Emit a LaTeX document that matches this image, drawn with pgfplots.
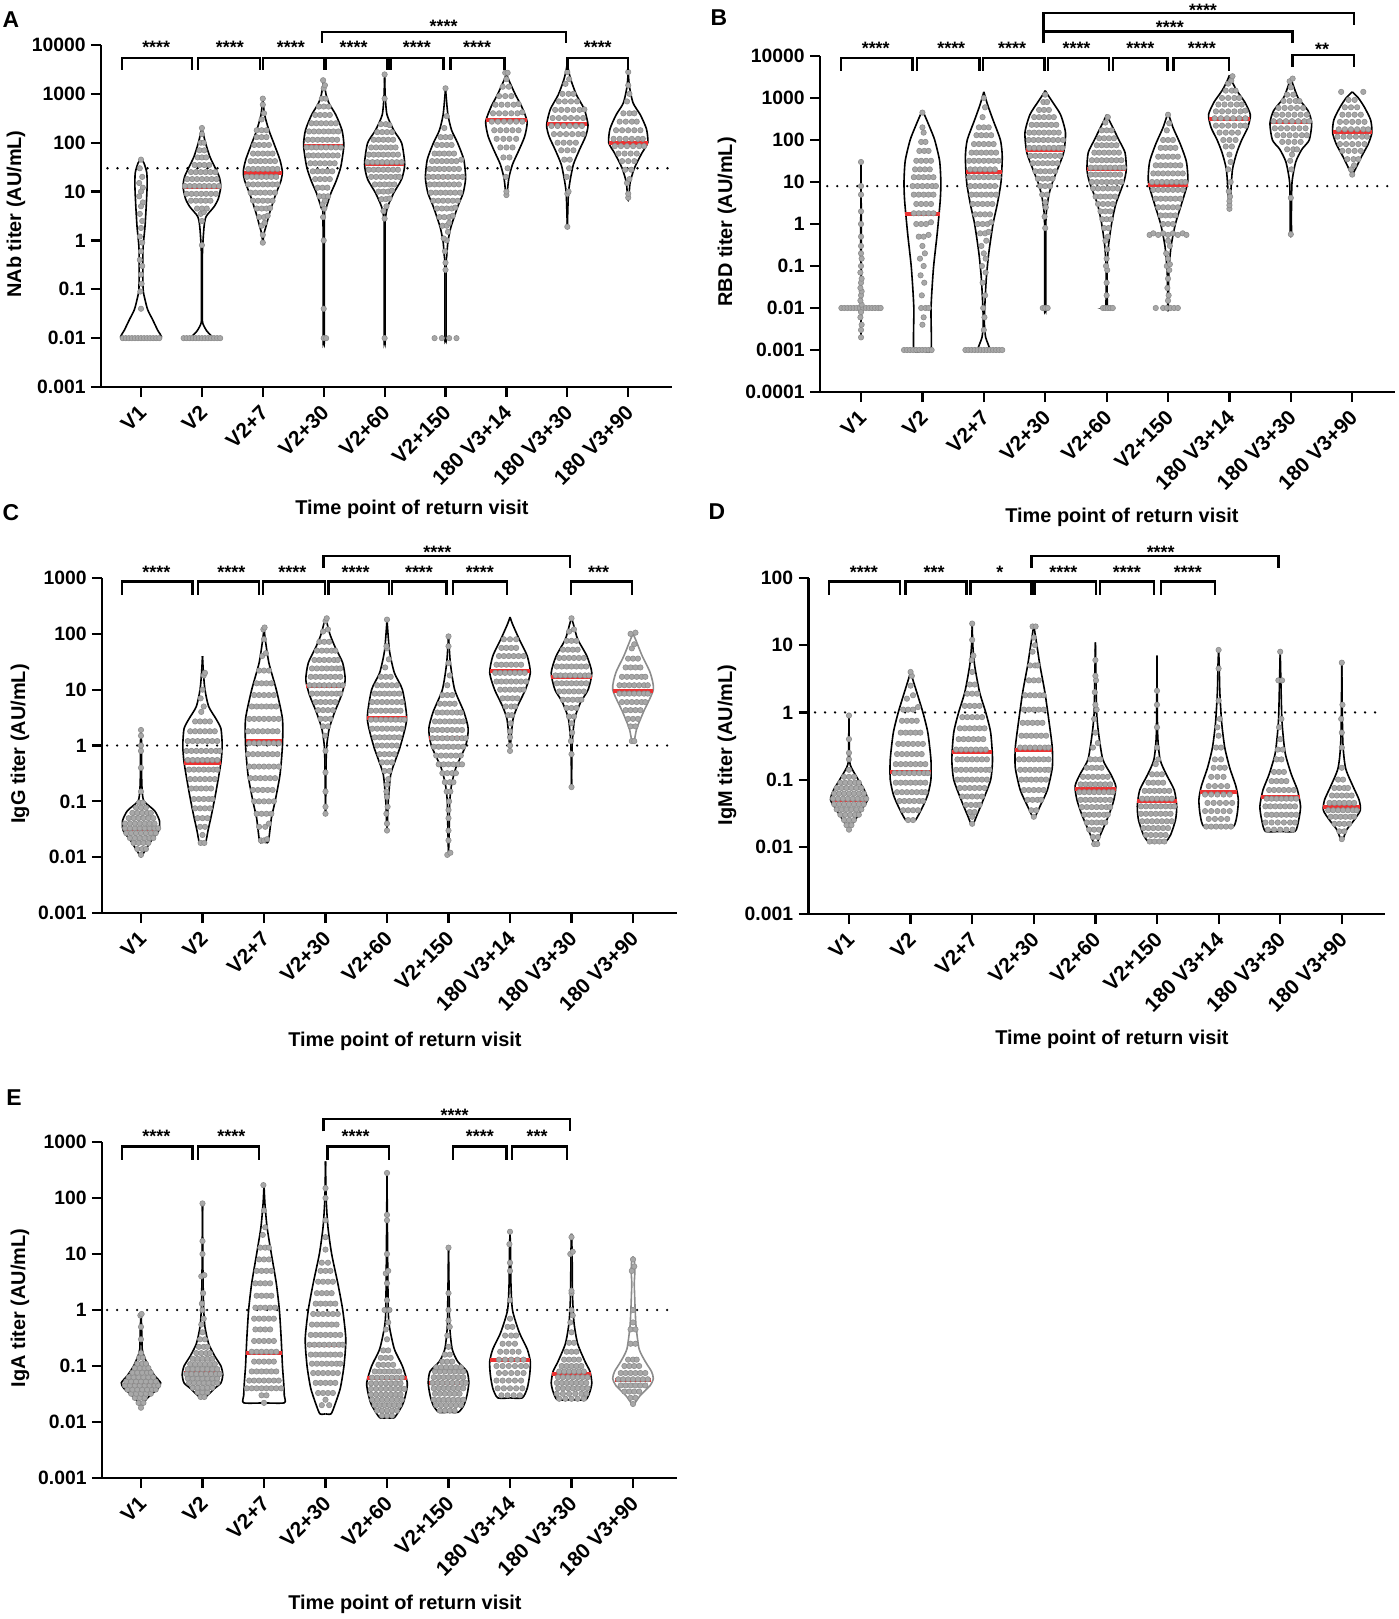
\documentclass[border=0pt]{standalone}
\usepackage{fontspec}
\setmainfont{Liberation Sans}
\usepackage{pgfplots}
\pgfplotsset{compat=1.18}
\definecolor{ptfill}{RGB}{168,168,168}
\definecolor{ptdraw}{RGB}{140,140,140}
\definecolor{medred}{RGB}{236,50,50}
\definecolor{vgray}{RGB}{140,140,140}
\newcommand{\vio}[3][black]{%
\addplot[draw=#1, line width=0.8bp, smooth, tension=0.4, mark=none, forget plot] table[row sep=\\, x expr=#2+\thisrow{w}, y=y]{y w\\ #3};
\addplot[draw=#1, line width=0.8bp, smooth, tension=0.4, mark=none, forget plot] table[row sep=\\, x expr=#2-\thisrow{w}, y=y]{y w\\ #3};}
\newcommand{\med}[3]{\addplot[color=medred, line width=2bp, mark=none, forget plot] table[row sep=\\, x expr=#1+\thisrow{d}, y=y]{d y\\ -#2 #3\\ #2 #3\\};}
\newcommand{\thr}[1]{\addplot[color=black, line width=1.3bp, line cap=round, dash pattern=on 0bp off 5bp, mark=none, forget plot] coordinates {(-0.55,#1) (8.7,#1)};}
\tikzset{br/.style={line width=1.2bp}, stars/.style={anchor=base, inner sep=0pt, font=\fontsize{9}{10}\selectfont\bfseries, yshift=-5.2bp},
  tl/.style={rotate=45, anchor=east, inner sep=0pt, font=\fontsize{10.5}{12}\selectfont\bfseries}}
\newcommand{\ticklabels}[1]{\foreach \c/\l in {0/V1,1/V2,2/V2+7,3/V2+30,4/V2+60,5/V2+150,6/180 V3+14,7/180 V3+30,8/180 V3+90}{\node[tl] at ({\c+0.028},#1) {\l};}}
\begin{document}
\begin{tikzpicture}
\path[use as bounding box] (0,0) rectangle (699.5bp,-809.5bp);

% ================= A =================
\begin{axis}[scale only axis, ymode=log, axis lines=left, axis line style={line width=1.1bp, -},
    tick style={line width=1.1bp, black}, major tick length=5bp, tick align=outside,
    xtick={0,1,2,3,4,5,6,7,8}, xticklabels={},
    y tick label style={font=\fontsize{9.7}{12}\selectfont\bfseries, inner sep=0bp, xshift=-2.5bp},
    yminorticks=false, enlargelimits=false, clip=false, anchor=south west,
  at={(50.5bp,-193.5bp)}, width=285.5bp, height=171bp,
  xmin=-0.657, xmax=8.719, ymin=0.001, ymax=10000,
  ytick={0.001,0.01,0.1,1,10,100,1000,10000}, yticklabels={0.001,0.01,0.1,1,10,100,1000,10000}]
\thr{30}
\vio{0}{0.01 0\\0.01 0.33\\0.0148 0.27\\0.024 0.19\\0.038 0.11\\0.062 0.065\\0.098 0.035\\0.3 0.03\\0.76 0.035\\1.9 0.065\\4.9 0.085\\12.6 0.10\\24 0.095\\38 0.05\\48 0\\}
\vio{1}{0.01 0\\0.01 0.18\\0.014 0.08\\0.02 0.015\\0.03 0.008\\0.5 0.008\\1.9 0.035\\3.1 0.07\\4.9 0.2\\7.2 0.27\\12.6 0.31\\20 0.285\\32 0.21\\52 0.13\\98 0.06\\200 0\\}
\vio{2}{0.88 0\\1.4 0.02\\1.9 0.05\\3.6 0.11\\8 0.2\\17 0.3\\26 0.32\\45 0.28\\98 0.18\\180 0.1\\370 0.03\\800 0\\}
\vio{3}{0.01 0\\0.01 0.01\\3 0.012\\4.6 0.04\\9.4 0.12\\16 0.2\\32 0.28\\87 0.33\\180 0.3\\370 0.2\\630 0.09\\950 0.04\\1900 0\\}
\vio{4}{0.01 0\\0.01 0.008\\2 0.008\\3 0.015\\4.9 0.05\\9.4 0.15\\18 0.28\\36 0.33\\98 0.28\\180 0.15\\370 0.04\\900 0.01\\2450 0\\}
\vio{5}{0.01 0\\0.01 0.01\\0.3 0.01\\0.48 0.02\\0.95 0.04\\1.9 0.09\\4.9 0.2\\9.4 0.29\\19 0.33\\45 0.3\\98 0.2\\180 0.1\\370 0.04\\900 0.01\\1300 0\\}
\vio{6}{8 0\\8 0.01\\10 0.015\\19 0.04\\36 0.1\\68 0.2\\135 0.3\\270 0.34\\550 0.25\\950 0.15\\1900 0.04\\2600 0\\}
\vio{7}{1.8 0\\5 0.01\\10 0.02\\18 0.05\\36 0.1\\72 0.2\\135 0.3\\230 0.34\\480 0.28\\950 0.15\\1900 0.06\\3000 0.02\\4300 0\\}
\vio{8}{7 0\\7 0.01\\15 0.03\\30 0.1\\60 0.22\\100 0.32\\190 0.3\\370 0.2\\650 0.08\\1400 0.02\\2800 0\\}
\addplot[only marks, mark=*, mark size=1.35bp, draw=ptdraw, fill=ptfill, line width=0.3bp, forget plot] coordinates {
(-0.30,0.01)(-0.25,0.01)(-0.20,0.01)(-0.15,0.01)(-0.10,0.01)(-0.05,0.01)(0,0.01)(0.05,0.01)(0.10,0.01)(0.15,0.01)(0.20,0.01)(0.25,0.01)(0.30,0.01)
(0,45)(-0.02,30)(0.02,20)(-0.03,15)(0.03,12)(0,10)(-0.03,8)(0.03,6)(0,5)(-0.02,3.5)(0.02,2.5)(0,1.8)(-0.02,1.2)(0.02,0.9)(0,0.6)(-0.02,0.4)(0.02,0.3)(0,0.2)(0.01,0.13)(-0.01,0.09)(0,0.04)
(0.70,0.01)(0.75,0.01)(0.80,0.01)(0.85,0.01)(0.90,0.01)(0.95,0.01)(1.0,0.01)(1.05,0.01)(1.10,0.01)(1.15,0.01)(1.20,0.01)(1.25,0.01)(1.30,0.01)
(1,0.8)(1,2.5)(0.98,3.5)(1.03,3.8)(0.92,4.5)(1.0,4.5)(1.08,4.5)
(0.82,6.5)(0.9,6.5)(0.98,6.5)(1.06,6.5)(1.14,6.5)
(0.75,9)(0.83,9)(0.91,9)(0.99,9)(1.07,9)(1.15,9)(1.23,9)
(0.72,13)(0.8,13)(0.88,13)(0.96,13)(1.04,13)(1.12,13)(1.2,13)(1.28,13)
(0.76,18)(0.84,18)(0.92,18)(1.0,18)(1.08,18)(1.16,18)(1.24,18)
(0.82,25)(0.9,25)(0.98,25)(1.06,25)(1.14,25)(1.22,25)
(0.88,35)(0.96,35)(1.04,35)(1.12,35)(0.93,50)(1.0,50)(1.07,50)(0.96,70)(1.04,70)(0.98,100)(1.03,100)(1.0,150)(1.0,200)
(2,0.9)(2,1.3)(1.98,2)(2.03,2.3)(1.94,3)(2.02,3)(2.08,3.2)
(1.9,4.5)(1.98,4.5)(2.06,4.5)(2.12,4.6)
(1.84,6.5)(1.92,6.5)(2.0,6.5)(2.08,6.5)(2.16,6.5)
(1.8,9.5)(1.88,9.5)(1.96,9.5)(2.04,9.5)(2.12,9.5)(2.2,9.5)
(1.76,14)(1.84,14)(1.92,14)(2.0,14)(2.08,14)(2.16,14)(2.24,14)
(1.74,20)(1.82,20)(1.9,20)(1.98,20)(2.06,20)(2.14,20)(2.22,20)
(1.76,29)(1.84,29)(1.92,29)(2.0,29)(2.08,29)(2.16,29)(2.24,29)
(1.8,42)(1.88,42)(1.96,42)(2.04,42)(2.12,42)(2.2,42)
(1.84,60)(1.92,60)(2.0,60)(2.08,60)(2.16,60)
(1.86,90)(1.94,90)(2.02,90)(2.1,90)(1.9,130)(1.98,130)(2.06,130)(1.9,180)(1.98,180)(2.06,180)
(1.98,300)(2.02,400)(2,600)(2,800)
(3,0.01)(3.04,0.01)(3,0.04)(3,1)(2.99,3)(3.01,4.5)(2.98,5.5)(3.02,6.5)
(2.93,8)(3,8)(3.07,8)(2.9,12)(2.98,12)(3.06,12)
(2.86,18)(2.94,18)(3.02,18)(3.1,18)
(2.82,26)(2.9,26)(2.98,26)(3.06,26)(3.14,26)
(2.78,38)(2.86,38)(2.94,38)(3.02,38)(3.1,38)(3.18,38)
(2.75,55)(2.83,55)(2.91,55)(2.99,55)(3.07,55)(3.15,55)(3.23,55)
(2.72,80)(2.8,80)(2.88,80)(2.96,80)(3.04,80)(3.12,80)(3.2,80)(3.28,80)
(2.74,115)(2.82,115)(2.9,115)(2.98,115)(3.06,115)(3.14,115)(3.22,115)
(2.76,170)(2.84,170)(2.92,170)(3.0,170)(3.08,170)(3.16,170)(3.24,170)
(2.8,250)(2.88,250)(2.96,250)(3.04,250)(3.12,250)(3.2,250)
(2.86,370)(2.94,370)(3.02,370)(3.1,370)(2.92,550)(3.0,550)(3.08,550)(2.97,800)(3.03,800)
(3,1300)(3.02,1500)(2.99,1900)
(4,0.01)(4,2.8)(3.98,4)(4.03,5)(3.95,7)(4.02,7)(4.08,7.2)
(3.9,10)(3.98,10)(4.06,10)(4.12,10.5)
(3.84,14)(3.92,14)(4.0,14)(4.08,14)(4.16,14)
(3.78,20)(3.86,20)(3.94,20)(4.02,20)(4.1,20)(4.18,20)(4.24,20)
(3.74,28)(3.82,28)(3.9,28)(3.98,28)(4.06,28)(4.14,28)(4.22,28)
(3.72,40)(3.8,40)(3.88,40)(3.96,40)(4.04,40)(4.12,40)(4.2,40)(4.28,40)
(3.74,57)(3.82,57)(3.9,57)(3.98,57)(4.06,57)(4.14,57)(4.22,57)
(3.78,80)(3.86,80)(3.94,80)(4.02,80)(4.1,80)(4.18,80)
(3.82,115)(3.9,115)(3.98,115)(4.06,115)(4.14,115)
(3.88,165)(3.96,165)(4.04,165)(4.12,165)(3.94,240)(4.02,240)(4.08,230)(4,800)(4,2500)
(4.82,0.01)(4.94,0.01)(5.06,0.01)(5.18,0.01)
(5,0.25)(5,0.35)(4.99,0.6)(5.02,1)(4.97,1.1)(5.04,1.5)(4.95,2)(5.02,2)(5.06,2.3)
(4.9,3)(4.98,3)(5.06,3)(5.12,3.2)
(4.86,4.5)(4.94,4.5)(5.02,4.5)(5.1,4.5)(5.16,4.7)
(4.8,6.5)(4.88,6.5)(4.96,6.5)(5.04,6.5)(5.12,6.5)(5.2,6.5)
(4.76,9.5)(4.84,9.5)(4.92,9.5)(5.0,9.5)(5.08,9.5)(5.16,9.5)(5.24,9.5)
(4.74,14)(4.82,14)(4.9,14)(4.98,14)(5.06,14)(5.14,14)(5.22,14)
(4.72,20)(4.8,20)(4.88,20)(4.96,20)(5.04,20)(5.12,20)(5.2,20)(5.28,20)
(4.74,29)(4.82,29)(4.9,29)(4.98,29)(5.06,29)(5.14,29)(5.22,29)
(4.78,42)(4.86,42)(4.94,42)(5.02,42)(5.1,42)(5.18,42)(5.26,45)
(4.82,60)(4.9,60)(4.98,60)(5.06,60)(5.14,60)
(4.86,90)(4.94,90)(5.02,90)(5.1,90)(4.92,130)(5.0,130)(5.08,130)(4.98,200)(5.02,350)(5,1300)
(6,8.5)(6,10)(5.99,20)(6.02,30)(5.95,50)(6.05,50)(5.9,80)(6.0,80)(6.1,80)
(5.84,120)(5.95,120)(6.05,120)(6.16,120)
(5.8,180)(5.9,180)(6.0,180)(6.1,180)(6.2,180)
(5.76,270)(5.86,270)(5.96,270)(6.06,270)(6.16,270)(6.26,270)
(5.78,400)(5.88,400)(5.98,400)(6.08,400)(6.18,400)(6.26,420)
(5.82,600)(5.92,600)(6.02,600)(6.12,600)(6.2,620)
(5.88,900)(5.98,900)(6.08,900)(5.94,1400)(6.04,1400)(6,2000)(5.98,2700)(6.02,2700)
(7,1.9)(7,9)(7.02,10)(6.99,20)(7.03,30)(6.95,45)(7.04,45)(6.9,70)(7.0,70)(7.1,70)
(6.84,100)(6.94,100)(7.04,100)(7.14,100)
(6.78,150)(6.88,150)(6.98,150)(7.08,150)(7.18,150)(7.26,150)
(6.74,220)(6.84,220)(6.94,220)(7.04,220)(7.14,220)(7.24,220)
(6.76,320)(6.86,320)(6.96,320)(7.06,320)(7.16,320)(7.26,320)
(6.8,470)(6.9,470)(7.0,470)(7.1,470)(7.2,470)(7.28,480)
(6.86,700)(6.96,700)(7.06,700)(7.16,700)(6.92,1000)(7.02,1000)(7.1,1000)
(6.97,1600)(7.03,2000)(7,2800)
(8,7.5)(8,9)(7.98,15)(8.02,18)(7.95,28)(8.05,28)(7.9,42)(8.0,42)(8.1,42)
(7.84,60)(7.94,60)(8.04,60)(8.14,60)
(7.78,85)(7.88,85)(7.98,85)(8.08,85)(8.18,85)(8.26,85)
(7.76,120)(7.86,120)(7.96,120)(8.06,120)(8.16,120)(8.24,120)
(7.8,180)(7.9,180)(8.0,180)(8.1,180)(8.2,180)
(7.86,270)(7.96,270)(8.06,270)(8.14,270)(7.92,400)(8.02,400)(8.1,400)
(7.98,700)(8.02,1000)(8,1500)(8,2800)
};
\med{1}{0.31}{12.6}\med{2}{0.31}{24}\med{3}{0.32}{87}\med{4}{0.32}{37}\med{5}{0.32}{19.5}
\med{6}{0.33}{285}\med{7}{0.33}{240}\med{8}{0.32}{100}
\end{axis}

% ================= B =================
\begin{axis}[scale only axis, ymode=log, axis lines=left, axis line style={line width=1.1bp, -},
    tick style={line width=1.1bp, black}, major tick length=5bp, tick align=outside,
    xtick={0,1,2,3,4,5,6,7,8}, xticklabels={},
    y tick label style={font=\fontsize{9.7}{12}\selectfont\bfseries, inner sep=0bp, xshift=-2.5bp},
    yminorticks=false, enlargelimits=false, clip=false, anchor=south west,
  at={(410bp,-196bp)}, width=287.5bp, height=168bp,
  xmin=-0.668, xmax=8.697, ymin=0.0001, ymax=10000,
  ytick={0.0001,0.001,0.01,0.1,1,10,100,1000,10000}, yticklabels={0.0001,0.001,0.01,0.1,1,10,100,1000,10000}]
\thr{8}
\vio{0}{0.002 0\\0.007 0.005\\0.009 0.03\\0.01 0.06\\0.011 0.03\\0.014 0.005\\1 0.004\\30 0\\}
\vio{1}{0.001 0\\0.001 0.14\\0.01 0.14\\0.09 0.18\\0.58 0.24\\3.6 0.29\\10 0.3\\32 0.28\\100 0.2\\200 0.12\\350 0.05\\500 0\\}
\vio{2}{0.001 0\\0.001 0.1\\0.002 0.03\\0.004 0.01\\0.01 0.015\\0.05 0.04\\0.2 0.08\\1 0.15\\3 0.22\\10 0.28\\40 0.3\\100 0.27\\300 0.15\\700 0.06\\1400 0\\}
\vio{3}{0.01 0\\0.01 0.01\\0.8 0.01\\2 0.02\\5 0.06\\10 0.12\\20 0.2\\50 0.3\\150 0.33\\400 0.25\\800 0.12\\1200 0.04\\1500 0\\}
\vio{4}{0.01 0\\0.01 0.02\\0.012 0.01\\0.1 0.01\\0.3 0.03\\1 0.08\\3 0.15\\10 0.28\\20 0.32\\50 0.3\\100 0.2\\200 0.1\\300 0.04\\400 0\\}
\vio{5}{0.01 0\\0.01 0.005\\0.05 0.01\\0.1 0.02\\0.3 0.05\\1 0.12\\3 0.22\\10 0.32\\30 0.3\\80 0.2\\200 0.08\\450 0\\}
\vio{6}{2.3 0\\2.3 0.01\\5 0.02\\20 0.05\\50 0.12\\100 0.2\\200 0.3\\400 0.34\\800 0.25\\1500 0.12\\2500 0.04\\3500 0\\}
\vio{7}{0.57 0\\0.57 0.01\\2 0.01\\10 0.02\\30 0.08\\60 0.18\\100 0.3\\250 0.34\\500 0.28\\1000 0.12\\2000 0.04\\3000 0\\}
\vio{8}{14.5 0\\20 0.05\\40 0.15\\80 0.26\\150 0.32\\300 0.3\\600 0.2\\1000 0.1\\1400 0\\}
\addplot[only marks, mark=*, mark size=1.35bp, draw=ptdraw, fill=ptfill, line width=0.3bp, forget plot] coordinates {
(-0.32,0.01)(-0.27,0.01)(-0.22,0.01)(-0.17,0.01)(-0.12,0.01)(-0.07,0.01)(-0.02,0.01)(0.03,0.01)(0.08,0.01)(0.13,0.01)(0.18,0.01)(0.23,0.01)(0.28,0.01)(0.32,0.01)
(0,0.002)(0,0.003)(0.01,0.004)(-0.01,0.006)(0,0.008)(0.01,0.012)(-0.01,0.015)(0,0.02)(0.01,0.025)(-0.01,0.03)(0,0.04)(0.01,0.05)(-0.01,0.07)(0,0.1)(0.01,0.15)(0,0.2)(0,0.3)(0,0.5)(0,1)(0,2)(0,5)(0,8)(0,30)
(0.70,0.001)(0.75,0.001)(0.80,0.001)(0.85,0.001)(0.90,0.001)(0.95,0.001)(1.0,0.001)(1.05,0.001)(1.10,0.001)(1.15,0.001)
(1.0,0.004)(1.02,0.006)(0.98,0.01)(1.05,0.01)(1.1,0.01)(0.99,0.02)(1.03,0.04)(0.97,0.06)(1.02,0.1)(0.96,0.15)(1.04,0.2)(1.0,0.3)
(0.94,0.5)(1.02,0.5)(1.1,0.55)(0.9,1)(0.98,1)(1.06,1)(1.14,1.1)
(0.86,1.8)(0.94,1.8)(1.02,1.8)(1.1,1.8)(1.18,1.8)
(0.9,3)(0.98,3)(1.06,3)(1.14,3)
(0.86,5)(0.94,5)(1.02,5)(1.1,5)(1.18,5)
(0.84,8)(0.92,8)(1.0,8)(1.08,8)(1.16,8)(1.22,8)
(0.86,13)(0.94,13)(1.02,13)(1.1,13)(1.18,13)
(0.88,20)(0.96,20)(1.04,20)(1.12,20)
(0.9,32)(0.98,32)(1.06,32)(1.14,32)(0.95,55)(1.03,55)(1.1,55)(0.98,90)(1.05,90)(1.02,150)(1.0,200)(1.0,450)
(1.70,0.001)(1.75,0.001)(1.80,0.001)(1.85,0.001)(1.90,0.001)(1.95,0.001)(2.0,0.001)(2.05,0.001)(2.10,0.001)(2.15,0.001)(2.20,0.001)(2.25,0.001)(2.30,0.001)
(2,0.003)(2.01,0.006)(1.99,0.01)(2.02,0.02)(1.98,0.04)(2.03,0.07)(1.97,0.1)(2.03,0.15)(2,0.2)(1.96,0.3)(2.04,0.4)
(1.94,0.6)(2.02,0.6)(2.08,0.65)(1.9,1)(1.98,1)(2.06,1)(2.12,1.1)
(1.86,1.7)(1.94,1.7)(2.02,1.7)(2.1,1.7)
(1.82,3)(1.9,3)(1.98,3)(2.06,3)(2.14,3)
(1.8,5)(1.88,5)(1.96,5)(2.04,5)(2.12,5)(2.2,5)
(1.78,8)(1.86,8)(1.94,8)(2.02,8)(2.1,8)(2.18,8)
(1.76,13)(1.84,13)(1.92,13)(2.0,13)(2.08,13)(2.16,13)(2.24,13)
(1.78,20)(1.86,20)(1.94,20)(2.02,20)(2.1,20)(2.18,20)
(1.76,32)(1.84,32)(1.92,32)(2.0,32)(2.08,32)(2.16,32)(2.24,32)
(1.8,50)(1.88,50)(1.96,50)(2.04,50)(2.12,50)(2.2,50)
(1.84,80)(1.92,80)(2.0,80)(2.08,80)(2.16,80)
(1.88,130)(1.96,130)(2.04,130)(2.12,130)(1.92,200)(2.0,200)(2.08,200)(1.98,350)(2.02,600)(2,1000)
(2.96,0.01)(3,0.01)(3.04,0.01)(3,0.8)(2.99,1.5)(3.01,2.5)(3,3.3)(2.95,5)(3.03,5)
(2.92,8)(3.0,8)(3.08,8)(2.88,12)(2.96,12)(3.04,12)(3.12,12)
(2.84,18)(2.92,18)(3.0,18)(3.08,18)(3.16,18)
(2.8,28)(2.88,28)(2.96,28)(3.04,28)(3.12,28)(3.2,28)
(2.76,42)(2.84,42)(2.92,42)(3.0,42)(3.08,42)(3.16,42)(3.24,42)
(2.74,65)(2.82,65)(2.9,65)(2.98,65)(3.06,65)(3.14,65)(3.22,65)(3.28,65)
(2.73,100)(2.81,100)(2.89,100)(2.97,100)(3.05,100)(3.13,100)(3.21,100)(3.29,100)
(2.74,150)(2.82,150)(2.9,150)(2.98,150)(3.06,150)(3.14,150)(3.22,150)
(2.78,230)(2.86,230)(2.94,230)(3.02,230)(3.1,230)(3.18,230)
(2.82,350)(2.9,350)(2.98,350)(3.06,350)(3.14,350)
(2.9,520)(2.98,520)(3.06,520)(2.97,800)(3.03,800)(3,1200)
(3.94,0.01)(3.98,0.01)(4.02,0.01)(4.06,0.01)(4.1,0.01)
(4,0.02)(4,0.04)(4.01,0.08)(3.99,0.1)(4,0.15)(4.01,0.25)(3.98,0.4)(4.02,0.5)
(3.96,0.8)(4.03,0.8)(3.93,1.3)(4.0,1.3)(4.07,1.3)(3.9,2)(3.98,2)(4.06,2)
(3.86,3)(3.94,3)(4.02,3)(4.1,3)
(3.82,4.5)(3.9,4.5)(3.98,4.5)(4.06,4.5)(4.14,4.5)
(3.78,7)(3.86,7)(3.94,7)(4.02,7)(4.1,7)(4.18,7)
(3.76,10)(3.84,10)(3.92,10)(4.0,10)(4.08,10)(4.16,10)(4.24,10)
(3.74,15)(3.82,15)(3.9,15)(3.98,15)(4.06,15)(4.14,15)(4.22,15)
(3.74,22)(3.82,22)(3.9,22)(3.98,22)(4.06,22)(4.14,22)(4.22,22)(4.28,22)
(3.76,33)(3.84,33)(3.92,33)(4.0,33)(4.08,33)(4.16,33)(4.24,33)
(3.8,50)(3.88,50)(3.96,50)(4.04,50)(4.12,50)(4.2,50)
(3.84,75)(3.92,75)(4.0,75)(4.08,75)(4.16,75)
(3.88,110)(3.96,110)(4.04,110)(4.12,110)(3.92,170)(4.0,170)(4.08,170)(3.98,260)(4.02,350)
(4.8,0.01)(4.92,0.01)(4.98,0.01)(5.04,0.01)(5.1,0.01)(5.16,0.01)
(5,0.015)(5.01,0.02)(4.99,0.03)(5.0,0.05)(5.02,0.08)(4.98,0.1)(5.03,0.11)(5,0.15)(4.97,0.2)(5.03,0.3)(5,0.4)
(4.7,0.55)(4.76,0.6)(4.84,0.55)(4.92,0.6)(5.0,0.55)(5.08,0.6)(5.16,0.55)(5.24,0.6)(5.3,0.55)
(4.92,1)(5.0,1)(5.08,1)(4.88,1.6)(4.96,1.6)(5.04,1.6)(5.12,1.6)
(4.84,2.5)(4.92,2.5)(5.0,2.5)(5.08,2.5)(5.16,2.5)
(4.8,4)(4.88,4)(4.96,4)(5.04,4)(5.12,4)(5.2,4)
(4.76,6.5)(4.84,6.5)(4.92,6.5)(5.0,6.5)(5.08,6.5)(5.16,6.5)(5.24,6.5)
(4.74,10)(4.82,10)(4.9,10)(4.98,10)(5.06,10)(5.14,10)(5.22,10)(5.28,10)
(4.76,16)(4.84,16)(4.92,16)(5.0,16)(5.08,16)(5.16,16)(5.24,16)
(4.8,25)(4.88,25)(4.96,25)(5.04,25)(5.12,25)(5.2,25)
(4.84,40)(4.92,40)(5.0,40)(5.08,40)(5.16,40)
(4.88,65)(4.96,65)(5.04,65)(5.12,65)(4.92,100)(5.0,100)(5.08,100)(4.98,170)(5.02,250)(5,400)
(6,2.3)(6,2.8)(6,3.5)(6.01,4.5)(5.99,6)(6.02,10)(5.98,20)(6.02,30)(6,45)(5.94,70)(6.04,70)
(5.9,100)(6.0,100)(6.1,100)(5.84,150)(5.94,150)(6.04,150)(6.14,150)
(5.78,220)(5.88,220)(5.98,220)(6.08,220)(6.18,220)(6.26,220)
(5.76,330)(5.86,330)(5.96,330)(6.06,330)(6.16,330)(6.26,330)
(5.78,480)(5.88,480)(5.98,480)(6.08,480)(6.18,480)(6.26,500)
(5.82,700)(5.92,700)(6.02,700)(6.12,700)(6.2,700)
(5.88,1000)(5.98,1000)(6.08,1000)(6.16,1000)(5.94,1500)(6.04,1500)(6.1,1500)
(5.98,2200)(6.03,2600)(6.05,3300)
(7,0.57)(7,4.2)(7.01,20)(6.99,32)(7.02,45)(6.94,60)(7.04,60)(7.1,60)
(6.86,90)(6.96,90)(7.06,90)(7.16,90)
(6.78,130)(6.88,130)(6.98,130)(7.08,130)(7.18,130)(7.26,130)
(6.74,190)(6.84,190)(6.94,190)(7.04,190)(7.14,190)(7.24,190)
(6.72,280)(6.82,280)(6.92,280)(7.02,280)(7.12,280)(7.22,280)(7.3,280)
(6.76,400)(6.86,400)(6.96,400)(7.06,400)(7.16,400)(7.26,400)
(6.8,580)(6.9,580)(7.0,580)(7.1,580)(7.2,580)
(6.88,850)(6.98,850)(7.08,850)(7.14,850)(6.94,1200)(7.04,1200)(7,1800)(6.98,2500)(7.03,2900)
(8,15)(7.98,20)(8.03,25)(7.92,35)(8.02,35)(8.1,35)
(7.84,55)(7.94,55)(8.04,55)(8.14,55)
(7.8,80)(7.9,80)(8.0,80)(8.1,80)(8.2,80)
(7.76,120)(7.86,120)(7.96,120)(8.06,120)(8.16,120)(8.24,120)
(7.78,180)(7.88,180)(7.98,180)(8.08,180)(8.18,180)(8.26,180)
(7.8,270)(7.9,270)(8.0,270)(8.1,270)(8.2,270)
(7.84,400)(7.94,400)(8.04,400)(8.14,400)(7.88,600)(7.98,600)(8.08,600)(7.94,900)(8.04,900)(7.82,1400)(8.18,1400)
};
\med{1}{0.29}{1.7}\med{2}{0.29}{17}\med{3}{0.31}{58}\med{4}{0.32}{20}\med{5}{0.32}{8.7}
\med{6}{0.33}{320}\med{7}{0.33}{270}\med{8}{0.32}{152}
\end{axis}

% ================= C =================
\begin{axis}[scale only axis, ymode=log, axis lines=left, axis line style={line width=1.1bp, -},
    tick style={line width=1.1bp, black}, major tick length=5bp, tick align=outside,
    xtick={0,1,2,3,4,5,6,7,8}, xticklabels={},
    y tick label style={font=\fontsize{9.7}{12}\selectfont\bfseries, inner sep=0bp, xshift=-2.5bp},
    yminorticks=false, enlargelimits=false, clip=false, anchor=south west,
  at={(51bp,-456.5bp)}, width=287.5bp, height=167.5bp,
  xmin=-0.634, xmax=8.715, ymin=0.001, ymax=1000,
  ytick={0.001,0.01,0.1,1,10,100,1000}, yticklabels={0.001,0.01,0.1,1,10,100,1000}]
\thr{1}
\vio{0}{0.01 0\\0.015 0.1\\0.02 0.17\\0.03 0.29\\0.045 0.3\\0.068 0.22\\0.1 0.05\\0.15 0.02\\0.3 0.01\\1 0.01\\1.9 0\\}
\vio{1}{0.018 0\\0.018 0.05\\0.03 0.09\\0.06 0.15\\0.15 0.22\\0.5 0.3\\1 0.32\\2 0.3\\3 0.22\\5 0.1\\10 0.04\\20 0.015\\40 0\\}
\vio{2}{0.019 0\\0.019 0.07\\0.05 0.12\\0.1 0.18\\0.3 0.26\\1 0.3\\3 0.3\\10 0.2\\30 0.08\\80 0.02\\130 0\\}
\vio{3}{0.06 0\\0.5 0.01\\1 0.02\\2 0.06\\4 0.15\\8 0.26\\15 0.32\\30 0.28\\60 0.15\\100 0.07\\200 0\\}
\vio{4}{0.03 0\\0.05 0.01\\0.1 0.02\\0.3 0.06\\0.6 0.15\\1 0.22\\3 0.32\\10 0.25\\20 0.12\\50 0.04\\180 0\\}
\vio{5}{0.011 0\\0.03 0.01\\0.1 0.02\\0.2 0.05\\0.4 0.12\\1 0.28\\2 0.32\\4 0.25\\10 0.1\\30 0.03\\95 0\\}
\vio{6}{0.8 0\\1.5 0.02\\3 0.05\\5 0.12\\10 0.25\\20 0.33\\40 0.28\\80 0.15\\150 0.04\\200 0\\}
\vio{7}{0.18 0\\1 0.01\\3 0.05\\6 0.15\\10 0.27\\20 0.33\\40 0.25\\80 0.1\\150 0.03\\190 0\\}
\vio[vgray]{8}{1.2 0\\1.2 0.02\\2 0.06\\4 0.17\\10 0.33\\20 0.28\\40 0.15\\80 0.04\\100 0\\}
\med{0}{0.28}{0.032}
\addplot[only marks, mark=*, mark size=1.35bp, draw=ptdraw, fill=ptfill, line width=0.3bp, forget plot] coordinates {
(0,0.011)(-0.06,0.014)(0.02,0.014)(0.08,0.014)
(-0.12,0.018)(-0.04,0.018)(0.04,0.018)(0.12,0.018)
(-0.18,0.022)(-0.1,0.022)(-0.02,0.022)(0.06,0.022)(0.14,0.022)(0.2,0.022)
(-0.24,0.027)(-0.16,0.027)(-0.08,0.027)(0,0.027)(0.08,0.027)(0.16,0.027)(0.24,0.027)
(-0.26,0.033)(-0.18,0.033)(-0.1,0.033)(-0.02,0.033)(0.06,0.033)(0.14,0.033)(0.22,0.033)(0.28,0.033)
(-0.26,0.04)(-0.18,0.04)(-0.1,0.04)(-0.02,0.04)(0.06,0.04)(0.14,0.04)(0.22,0.04)
(-0.2,0.05)(-0.12,0.05)(-0.04,0.05)(0.04,0.05)(0.12,0.05)(0.2,0.05)
(-0.14,0.062)(-0.06,0.062)(0.02,0.062)(0.1,0.062)(0.16,0.062)
(-0.08,0.077)(0,0.077)(0.08,0.077)(-0.03,0.095)(0.03,0.095)
(0,0.15)(0,0.4)(0,0.8)(0,1)(0,1.5)(0,1.9)
(0.97,0.018)(1.03,0.018)(1.0,0.025)(0.96,0.035)(1.04,0.035)(0.92,0.05)(1.0,0.05)(1.08,0.05)
(0.88,0.075)(0.96,0.075)(1.04,0.075)(1.12,0.075)
(0.86,0.11)(0.94,0.11)(1.02,0.11)(1.1,0.11)(1.16,0.11)
(0.82,0.17)(0.9,0.17)(0.98,0.17)(1.06,0.17)(1.14,0.17)
(0.8,0.25)(0.88,0.25)(0.96,0.25)(1.04,0.25)(1.12,0.25)(1.2,0.25)
(0.78,0.37)(0.86,0.37)(0.94,0.37)(1.02,0.37)(1.1,0.37)(1.18,0.37)(1.24,0.37)
(0.76,0.55)(0.84,0.55)(0.92,0.55)(1.0,0.55)(1.08,0.55)(1.16,0.55)(1.24,0.55)
(0.74,0.8)(0.82,0.8)(0.9,0.8)(0.98,0.8)(1.06,0.8)(1.14,0.8)(1.22,0.8)(1.28,0.8)
(0.76,1.2)(0.84,1.2)(0.92,1.2)(1.0,1.2)(1.08,1.2)(1.16,1.2)(1.24,1.2)
(0.8,1.8)(0.88,1.8)(0.96,1.8)(1.04,1.8)(1.12,1.8)(1.2,1.8)
(0.88,2.7)(0.96,2.7)(1.04,2.7)(1.12,2.7)(0.98,4)(1.02,5)(0.97,7)(1.0,10)(1.02,18)(1.04,20)
(1.95,0.02)(2.0,0.02)(2.05,0.021)(1.92,0.035)(2.02,0.035)(2.08,0.04)
(1.88,0.06)(1.96,0.06)(2.04,0.06)(2.12,0.06)
(1.84,0.1)(1.92,0.1)(2.0,0.1)(2.08,0.1)(2.16,0.1)
(1.82,0.16)(1.9,0.16)(1.98,0.16)(2.06,0.16)(2.14,0.16)
(1.78,0.26)(1.86,0.26)(1.94,0.26)(2.02,0.26)(2.1,0.26)(2.18,0.26)
(1.76,0.42)(1.84,0.42)(1.92,0.42)(2.0,0.42)(2.08,0.42)(2.16,0.42)(2.24,0.42)
(1.74,0.7)(1.82,0.7)(1.9,0.7)(1.98,0.7)(2.06,0.7)(2.14,0.7)(2.22,0.7)
(1.76,1.1)(1.84,1.1)(1.92,1.1)(2.0,1.1)(2.08,1.1)(2.16,1.1)(2.24,1.1)
(1.74,1.8)(1.82,1.8)(1.9,1.8)(1.98,1.8)(2.06,1.8)(2.14,1.8)(2.22,1.8)
(1.76,3)(1.84,3)(1.92,3)(2.0,3)(2.08,3)(2.16,3)(2.24,3)
(1.8,5)(1.88,5)(1.96,5)(2.04,5)(2.12,5)(2.2,5)
(1.84,8)(1.92,8)(2.0,8)(2.08,8)(2.16,8)
(1.88,13)(1.96,13)(2.04,13)(2.12,13)(1.92,22)(2.0,22)(2.08,22)(1.97,40)(2.03,45)(2,80)(1.99,120)(2.01,130)
(3,0.06)(3,0.08)(3,0.15)(3,0.33)(3,0.8)(2.99,1.5)(2.96,2.2)(3.04,2.2)(2.92,3)(3.0,3)(3.08,3)
(2.88,4.3)(2.96,4.3)(3.04,4.3)(3.12,4.3)
(2.84,6)(2.92,6)(3.0,6)(3.08,6)(3.16,6)
(2.78,8.5)(2.86,8.5)(2.94,8.5)(3.02,8.5)(3.1,8.5)(3.18,8.5)(3.24,8.5)
(2.74,12)(2.82,12)(2.9,12)(2.98,12)(3.06,12)(3.14,12)(3.22,12)(3.28,12)
(2.76,17)(2.84,17)(2.92,17)(3.0,17)(3.08,17)(3.16,17)(3.24,17)
(2.78,24)(2.86,24)(2.94,24)(3.02,24)(3.1,24)(3.18,24)(3.24,24)
(2.82,34)(2.9,34)(2.98,34)(3.06,34)(3.14,34)(3.2,34)
(2.86,50)(2.94,50)(3.02,50)(3.1,50)(3.16,50)
(2.9,72)(2.98,72)(3.06,72)(2.96,110)(3.04,120)(3.0,170)(3.02,190)
(4,0.03)(4,0.04)(3.99,0.06)(4.01,0.08)(4,0.12)(3.99,0.15)(4.0,0.2)(4.02,0.25)(3.96,0.35)(4.04,0.35)
(3.92,0.5)(4.0,0.5)(4.08,0.5)(3.88,0.7)(3.96,0.7)(4.04,0.7)(4.12,0.7)
(3.84,1)(3.92,1)(4.0,1)(4.08,1)(4.16,1)
(3.8,1.4)(3.88,1.4)(3.96,1.4)(4.04,1.4)(4.12,1.4)(4.2,1.4)
(3.76,2)(3.84,2)(3.92,2)(4.0,2)(4.08,2)(4.16,2)(4.24,2)
(3.74,2.9)(3.82,2.9)(3.9,2.9)(3.98,2.9)(4.06,2.9)(4.14,2.9)(4.22,2.9)(4.28,2.9)
(3.74,4.2)(3.82,4.2)(3.9,4.2)(3.98,4.2)(4.06,4.2)(4.14,4.2)(4.22,4.2)
(3.76,6)(3.84,6)(3.92,6)(4.0,6)(4.08,6)(4.16,6)(4.24,6)
(3.8,8.5)(3.88,8.5)(3.96,8.5)(4.04,8.5)(4.12,8.5)(4.2,8.5)
(3.84,12)(3.92,12)(4.0,12)(4.08,12)(4.16,12)
(3.9,17)(3.98,17)(4.06,17)(3.97,25)(4.03,35)(4,55)(3.99,60)(4,180)
(4.98,0.011)(5.03,0.012)(5,0.02)(5,0.03)(5,0.05)(5,0.07)(5.01,0.1)(4.97,0.15)(5.03,0.15)
(4.94,0.22)(5.02,0.22)(5.08,0.22)(4.9,0.32)(4.98,0.32)(5.06,0.32)(5.12,0.32)
(4.84,0.46)(4.92,0.46)(5.0,0.46)(5.08,0.46)(5.16,0.46)(5.22,0.46)
(4.8,0.66)(4.88,0.66)(4.96,0.66)(5.04,0.66)(5.12,0.66)(5.2,0.66)
(4.76,0.95)(4.84,0.95)(4.92,0.95)(5.0,0.95)(5.08,0.95)(5.16,0.95)(5.24,0.95)
(4.74,1.35)(4.82,1.35)(4.9,1.35)(4.98,1.35)(5.06,1.35)(5.14,1.35)(5.22,1.35)(5.28,1.35)
(4.74,1.9)(4.82,1.9)(4.9,1.9)(4.98,1.9)(5.06,1.9)(5.14,1.9)(5.22,1.9)
(4.78,2.7)(4.86,2.7)(4.94,2.7)(5.02,2.7)(5.1,2.7)(5.18,2.7)(5.24,2.7)
(4.82,3.9)(4.9,3.9)(4.98,3.9)(5.06,3.9)(5.14,3.9)(5.2,3.9)
(4.86,5.6)(4.94,5.6)(5.02,5.6)(5.1,5.6)(4.9,8)(4.98,8)(5.06,8)(4.98,12)(5.02,18)(5,30)(5,60)(5,90)
(6,0.8)(6,1)(6,1.4)(6,1.8)(6.01,2.5)(5.97,3.5)(6.03,3.5)(5.93,5)(6.02,5)(6.08,5)
(5.88,7)(5.96,7)(6.04,7)(6.12,7)
(5.84,10)(5.92,10)(6.0,10)(6.08,10)(6.16,10)(6.22,10)
(5.78,14)(5.86,14)(5.94,14)(6.02,14)(6.1,14)(6.18,14)(6.26,14)
(5.76,20)(5.84,20)(5.92,20)(6.0,20)(6.08,20)(6.16,20)(6.24,20)
(5.78,28)(5.86,28)(5.94,28)(6.02,28)(6.1,28)(6.18,28)
(5.82,40)(5.9,40)(5.98,40)(6.06,40)(6.14,40)(6.22,40)
(5.86,56)(5.94,56)(6.02,56)(6.1,56)(5.9,80)(6.0,80)(6.1,80)
(7,0.18)(7,0.7)(6.99,1.2)(7.01,1.7)(7,2.5)(6.96,3.3)(7.04,3.3)(6.92,4.7)(7.0,4.7)(7.08,4.7)
(6.86,6.6)(6.94,6.6)(7.02,6.6)(7.1,6.6)(7.16,6.6)
(6.8,9.3)(6.88,9.3)(6.96,9.3)(7.04,9.3)(7.12,9.3)(7.2,9.3)
(6.76,13)(6.84,13)(6.92,13)(7.0,13)(7.08,13)(7.16,13)(7.24,13)
(6.74,18)(6.82,18)(6.9,18)(6.98,18)(7.06,18)(7.14,18)(7.22,18)(7.28,18)
(6.76,26)(6.84,26)(6.92,26)(7.0,26)(7.08,26)(7.16,26)(7.24,26)
(6.8,37)(6.88,37)(6.96,37)(7.04,37)(7.12,37)(7.2,37)
(6.86,52)(6.94,52)(7.02,52)(7.1,52)(6.92,75)(7.0,75)(7.08,75)(6.96,110)(7.04,120)(7,190)
(7.98,1.2)(8.02,1.2)(7.96,2.2)(8.04,2.2)(7.92,3)(8.0,3)(8.08,3)
(7.88,4.3)(7.96,4.3)(8.04,4.3)(8.12,4.3)
(7.82,6)(7.9,6)(7.98,6)(8.06,6)(8.14,6)(8.2,6)
(7.78,8.5)(7.86,8.5)(7.94,8.5)(8.02,8.5)(8.1,8.5)(8.18,8.5)(8.24,8.5)
(7.78,12)(7.86,12)(7.94,12)(8.02,12)(8.1,12)(8.18,12)(8.24,12)
(7.82,17)(7.9,17)(7.98,17)(8.06,17)(8.14,17)(8.2,17)
(7.88,25)(7.96,25)(8.04,25)(8.12,25)(7.92,36)(8.0,36)(8.08,36)(7.98,55)(8.02,65)(7.96,100)(8.04,105)
};
\med{1}{0.3}{0.49}\med{2}{0.3}{1.2}\med{3}{0.32}{11.5}\med{4}{0.32}{3.1}\med{5}{0.31}{1.35}
\med{6}{0.33}{22}\med{7}{0.33}{17}\med{8}{0.32}{9.5}
\end{axis}

% ================= D =================
\begin{axis}[scale only axis, ymode=log, axis lines=left, axis line style={line width=1.1bp, -},
    tick style={line width=1.1bp, black}, major tick length=5bp, tick align=outside,
    xtick={0,1,2,3,4,5,6,7,8}, xticklabels={},
    y tick label style={font=\fontsize{9.7}{12}\selectfont\bfseries, inner sep=0bp, xshift=-2.5bp},
    yminorticks=false, enlargelimits=false, clip=false, anchor=south west,
  at={(404.25bp,-457bp)}, width=288.25bp, height=168bp,
  xmin=-0.657, xmax=8.701, ymin=0.001, ymax=100,
  ytick={0.001,0.01,0.1,1,10,100}, yticklabels={0.001,0.01,0.1,1,10,100}]
\thr{1}
\vio{0}{0.018 0\\0.025 0.1\\0.035 0.2\\0.05 0.3\\0.07 0.25\\0.1 0.15\\0.15 0.04\\0.2 0.01\\0.9 0\\}
\vio{1}{0.025 0\\0.025 0.08\\0.04 0.2\\0.06 0.28\\0.1 0.33\\0.2 0.33\\0.5 0.28\\1 0.2\\2 0.1\\3 0.04\\4 0\\}
\vio{2}{0.022 0\\0.022 0.02\\0.03 0.08\\0.05 0.18\\0.1 0.3\\0.2 0.33\\0.5 0.3\\1 0.22\\2 0.12\\5 0.04\\10 0.01\\21 0\\}
\vio{3}{0.028 0\\0.028 0.02\\0.04 0.1\\0.07 0.22\\0.15 0.3\\0.3 0.3\\0.7 0.25\\2 0.18\\5 0.1\\10 0.05\\15 0.02\\20 0\\}
\vio{4}{0.011 0\\0.011 0.02\\0.015 0.08\\0.03 0.22\\0.05 0.3\\0.08 0.33\\0.12 0.25\\0.2 0.12\\0.5 0.05\\1 0.02\\3 0.01\\11 0\\}
\vio{5}{0.012 0\\0.012 0.14\\0.015 0.22\\0.025 0.3\\0.04 0.32\\0.07 0.28\\0.12 0.15\\0.2 0.05\\0.5 0.01\\7 0\\}
\vio{6}{0.02 0\\0.02 0.24\\0.03 0.3\\0.05 0.32\\0.08 0.28\\0.15 0.18\\0.3 0.1\\0.7 0.05\\2 0.02\\5 0.01\\9 0\\}
\vio{7}{0.017 0\\0.017 0.24\\0.025 0.3\\0.04 0.33\\0.07 0.28\\0.12 0.18\\0.25 0.08\\0.7 0.03\\2 0.015\\8.5 0\\}
\vio{8}{0.013 0\\0.013 0.02\\0.018 0.08\\0.025 0.2\\0.035 0.3\\0.05 0.28\\0.08 0.18\\0.15 0.06\\0.4 0.015\\5.7 0\\}
\med{0}{0.28}{0.05}
\addplot[only marks, mark=*, mark size=1.35bp, draw=ptdraw, fill=ptfill, line width=0.3bp, forget plot] coordinates {
(0,0.018)(-0.04,0.021)(0.04,0.021)(-0.08,0.025)(0,0.025)(0.08,0.025)
(-0.14,0.03)(-0.06,0.03)(0.02,0.03)(0.1,0.03)(0.16,0.03)
(-0.2,0.036)(-0.12,0.036)(-0.04,0.036)(0.04,0.036)(0.12,0.036)(0.2,0.036)
(-0.24,0.043)(-0.16,0.043)(-0.08,0.043)(0,0.043)(0.08,0.043)(0.16,0.043)(0.24,0.043)
(-0.26,0.052)(-0.18,0.052)(-0.1,0.052)(-0.02,0.052)(0.06,0.052)(0.14,0.052)(0.22,0.052)(0.28,0.052)
(-0.24,0.062)(-0.16,0.062)(-0.08,0.062)(0,0.062)(0.08,0.062)(0.16,0.062)(0.24,0.062)
(-0.2,0.075)(-0.12,0.075)(-0.04,0.075)(0.04,0.075)(0.12,0.075)(0.2,0.075)
(-0.14,0.09)(-0.06,0.09)(0.02,0.09)(0.1,0.09)(0.16,0.09)
(-0.08,0.11)(0,0.11)(0.08,0.11)(0,0.14)(0,0.2)(0,0.25)(0,0.4)(0,0.9)
(0.96,0.025)(1.04,0.025)(0.88,0.035)(0.96,0.035)(1.04,0.035)(1.12,0.035)
(0.82,0.048)(0.9,0.048)(0.98,0.048)(1.06,0.048)(1.14,0.048)(1.2,0.048)
(0.78,0.065)(0.86,0.065)(0.94,0.065)(1.02,0.065)(1.1,0.065)(1.18,0.065)(1.24,0.065)
(0.76,0.09)(0.84,0.09)(0.92,0.09)(1.0,0.09)(1.08,0.09)(1.16,0.09)(1.24,0.09)
(0.74,0.125)(0.82,0.125)(0.9,0.125)(0.98,0.125)(1.06,0.125)(1.14,0.125)(1.22,0.125)(1.28,0.125)
(0.76,0.17)(0.84,0.17)(0.92,0.17)(1.0,0.17)(1.08,0.17)(1.16,0.17)(1.24,0.17)
(0.78,0.24)(0.86,0.24)(0.94,0.24)(1.02,0.24)(1.1,0.24)(1.18,0.24)
(0.8,0.34)(0.88,0.34)(0.96,0.34)(1.04,0.34)(1.12,0.34)(1.2,0.34)
(0.84,0.5)(0.92,0.5)(1.0,0.5)(1.08,0.5)(1.16,0.5)
(0.86,0.75)(0.94,0.75)(1.02,0.75)(1.1,0.75)(0.88,1.1)(0.96,1.1)(1.04,1.1)(1.12,1.2)
(0.94,1.6)(1.04,1.8)(1.0,2.5)(1.02,3.5)(1.0,4)
(2,0.022)(2,0.028)(1.96,0.033)(2.04,0.033)(1.9,0.042)(1.98,0.042)(2.06,0.042)(2.12,0.042)
(1.84,0.056)(1.92,0.056)(2.0,0.056)(2.08,0.056)(2.16,0.056)
(1.8,0.075)(1.88,0.075)(1.96,0.075)(2.04,0.075)(2.12,0.075)(2.2,0.075)
(1.76,0.1)(1.84,0.1)(1.92,0.1)(2.0,0.1)(2.08,0.1)(2.16,0.1)(2.24,0.1)
(1.74,0.14)(1.82,0.14)(1.9,0.14)(1.98,0.14)(2.06,0.14)(2.14,0.14)(2.22,0.14)(2.28,0.14)
(1.76,0.2)(1.84,0.2)(1.92,0.2)(2.0,0.2)(2.08,0.2)(2.16,0.2)(2.24,0.2)
(1.74,0.28)(1.82,0.28)(1.9,0.28)(1.98,0.28)(2.06,0.28)(2.14,0.28)(2.22,0.28)
(1.78,0.4)(1.86,0.4)(1.94,0.4)(2.02,0.4)(2.1,0.4)(2.18,0.4)
(1.8,0.58)(1.88,0.58)(1.96,0.58)(2.04,0.58)(2.12,0.58)(2.2,0.58)
(1.84,0.85)(1.92,0.85)(2.0,0.85)(2.08,0.85)(2.16,0.85)
(1.88,1.25)(1.96,1.25)(2.04,1.25)(2.12,1.25)(1.92,1.9)(2.0,1.9)(2.08,1.9)
(1.96,2.6)(2.04,2.6)(2,4)(1.99,6)(2.02,7)(2,12)(2,21)
(3,0.028)(2.96,0.035)(3.04,0.035)(2.9,0.05)(2.98,0.05)(3.06,0.05)(3.12,0.05)
(2.84,0.07)(2.92,0.07)(3.0,0.07)(3.08,0.07)(3.16,0.07)
(2.8,0.1)(2.88,0.1)(2.96,0.1)(3.04,0.1)(3.12,0.1)(3.2,0.1)
(2.78,0.14)(2.86,0.14)(2.94,0.14)(3.02,0.14)(3.1,0.14)(3.18,0.14)(3.24,0.14)
(2.76,0.2)(2.84,0.2)(2.92,0.2)(3.0,0.2)(3.08,0.2)(3.16,0.2)(3.24,0.2)
(2.78,0.3)(2.86,0.3)(2.94,0.3)(3.02,0.3)(3.1,0.3)(3.18,0.3)(3.24,0.3)
(2.8,0.45)(2.88,0.45)(2.96,0.45)(3.04,0.45)(3.12,0.45)(3.2,0.45)
(2.82,0.7)(2.9,0.7)(2.98,0.7)(3.06,0.7)(3.14,0.7)
(2.84,1.1)(2.92,1.1)(3.0,1.1)(3.08,1.1)(3.16,1.1)
(2.86,1.8)(2.94,1.8)(3.02,1.8)(3.1,1.8)(3.16,1.8)
(2.92,3)(3.0,3)(3.08,3)(2.94,5)(3.02,5)(3.06,5)(2.98,8)(3.02,10)(3.0,13)(2.98,19)(3.03,19)
(3.98,0.011)(4.03,0.011)(3.96,0.014)(4.04,0.014)(3.9,0.018)(3.98,0.018)(4.06,0.018)
(3.86,0.023)(3.94,0.023)(4.02,0.023)(4.1,0.023)(4.16,0.023)
(3.82,0.03)(3.9,0.03)(3.98,0.03)(4.06,0.03)(4.14,0.03)(4.2,0.03)
(3.78,0.039)(3.86,0.039)(3.94,0.039)(4.02,0.039)(4.1,0.039)(4.18,0.039)(4.24,0.039)
(3.76,0.05)(3.84,0.05)(3.92,0.05)(4.0,0.05)(4.08,0.05)(4.16,0.05)(4.24,0.05)
(3.74,0.065)(3.82,0.065)(3.9,0.065)(3.98,0.065)(4.06,0.065)(4.14,0.065)(4.22,0.065)(4.28,0.065)
(3.76,0.085)(3.84,0.085)(3.92,0.085)(4.0,0.085)(4.08,0.085)(4.16,0.085)(4.24,0.085)
(3.8,0.11)(3.88,0.11)(3.96,0.11)(4.04,0.11)(4.12,0.11)(4.2,0.11)
(3.86,0.15)(3.94,0.15)(4.02,0.15)(4.1,0.15)(3.92,0.2)(4.0,0.2)(4.08,0.2)
(3.96,0.3)(4.04,0.35)(4,0.5)(3.98,0.8)(4.02,1.1)(4,1.3)(3.99,2)(4.01,3)(4,3.5)(4,6)
(4.88,0.012)(4.96,0.012)(5.04,0.012)(5.12,0.012)
(4.82,0.015)(4.9,0.015)(4.98,0.015)(5.06,0.015)(5.14,0.015)
(4.78,0.019)(4.86,0.019)(4.94,0.019)(5.02,0.019)(5.1,0.019)(5.18,0.019)
(4.76,0.024)(4.84,0.024)(4.92,0.024)(5.0,0.024)(5.08,0.024)(5.16,0.024)(5.24,0.024)
(4.74,0.031)(4.82,0.031)(4.9,0.031)(4.98,0.031)(5.06,0.031)(5.14,0.031)(5.22,0.031)
(4.74,0.04)(4.82,0.04)(4.9,0.04)(4.98,0.04)(5.06,0.04)(5.14,0.04)(5.22,0.04)(5.28,0.04)
(4.76,0.052)(4.84,0.052)(4.92,0.052)(5.0,0.052)(5.08,0.052)(5.16,0.052)(5.24,0.052)
(4.8,0.068)(4.88,0.068)(4.96,0.068)(5.04,0.068)(5.12,0.068)(5.2,0.068)
(4.86,0.09)(4.94,0.09)(5.02,0.09)(5.1,0.09)(4.92,0.12)(5.0,0.12)(5.08,0.12)
(4.98,0.17)(5.02,0.2)(5,0.3)(5,0.6)(5,1.3)(5,2.1)
(5.8,0.02)(5.88,0.02)(5.96,0.02)(6.04,0.02)(6.12,0.02)(6.2,0.02)
(5.84,0.026)(5.94,0.026)(6.04,0.026)(6.14,0.026)
(5.78,0.034)(5.88,0.034)(5.98,0.034)(6.08,0.034)(6.18,0.034)
(5.82,0.045)(5.92,0.045)(6.02,0.045)(6.12,0.045)(6.22,0.045)
(5.78,0.06)(5.88,0.06)(5.98,0.06)(6.08,0.06)(6.18,0.06)
(5.84,0.08)(5.94,0.08)(6.04,0.08)(6.14,0.08)(5.88,0.11)(5.98,0.11)(6.08,0.11)
(5.92,0.15)(6.02,0.15)(6.1,0.15)(5.94,0.2)(6.04,0.2)(5.96,0.3)(6.04,0.3)
(6,0.45)(5.98,0.6)(6.02,0.8)(6,1.5)(6,4.5)(6,8.5)
(6.8,0.018)(6.9,0.018)(7.0,0.018)(7.1,0.018)(7.2,0.018)
(6.76,0.023)(6.86,0.023)(6.96,0.023)(7.06,0.023)(7.16,0.023)(7.24,0.023)
(6.78,0.03)(6.86,0.03)(6.94,0.03)(7.02,0.03)(7.1,0.03)(7.18,0.03)(7.26,0.03)
(6.76,0.04)(6.84,0.04)(6.92,0.04)(7.0,0.04)(7.08,0.04)(7.16,0.04)(7.24,0.04)
(6.78,0.052)(6.86,0.052)(6.94,0.052)(7.02,0.052)(7.1,0.052)(7.18,0.052)(7.26,0.052)
(6.82,0.07)(6.9,0.07)(6.98,0.07)(7.06,0.07)(7.14,0.07)(7.22,0.07)
(6.86,0.095)(6.94,0.095)(7.02,0.095)(7.1,0.095)(6.9,0.13)(6.98,0.13)(7.06,0.13)
(6.94,0.2)(7.02,0.2)(6.96,0.28)(7.04,0.28)(7,0.4)(6.98,0.6)(7.02,0.8)(6.97,3)(7.03,3)(7,8)
(8,0.013)(7.96,0.017)(8.04,0.017)(7.88,0.022)(7.96,0.022)(8.04,0.022)(8.12,0.022)
(7.82,0.028)(7.9,0.028)(7.98,0.028)(8.06,0.028)(8.14,0.028)(8.2,0.028)
(7.78,0.035)(7.86,0.035)(7.94,0.035)(8.02,0.035)(8.1,0.035)(8.18,0.035)(8.24,0.035)
(7.8,0.045)(7.88,0.045)(7.96,0.045)(8.04,0.045)(8.12,0.045)(8.2,0.045)
(7.84,0.058)(7.92,0.058)(8.0,0.058)(8.08,0.058)(8.16,0.058)
(7.88,0.075)(7.96,0.075)(8.04,0.075)(8.1,0.075)(7.94,0.1)(8.02,0.1)
(8,0.15)(8,0.3)(8,0.5)(7.99,0.8)(8.01,1.3)(8,5.5)
};
\med{1}{0.33}{0.13}\med{2}{0.32}{0.26}\med{3}{0.3}{0.28}\med{4}{0.33}{0.072}\med{5}{0.32}{0.048}
\med{6}{0.3}{0.066}\med{7}{0.32}{0.055}\med{8}{0.3}{0.039}
\end{axis}

% ================= E =================
\begin{axis}[scale only axis, ymode=log, axis lines=left, axis line style={line width=1.1bp, -},
    tick style={line width=1.1bp, black}, major tick length=5bp, tick align=outside,
    xtick={0,1,2,3,4,5,6,7,8}, xticklabels={},
    y tick label style={font=\fontsize{9.7}{12}\selectfont\bfseries, inner sep=0bp, xshift=-2.5bp},
    yminorticks=false, enlargelimits=false, clip=false, anchor=south west,
  at={(51bp,-739bp)}, width=287.5bp, height=168bp,
  xmin=-0.634, xmax=8.715, ymin=0.001, ymax=1000,
  ytick={0.001,0.01,0.1,1,10,100,1000}, yticklabels={0.001,0.01,0.1,1,10,100,1000}]
\thr{1}
\vio{0}{0.018 0\\0.025 0.08\\0.03 0.15\\0.04 0.28\\0.05 0.32\\0.068 0.22\\0.1 0.12\\0.15 0.05\\0.2 0.02\\0.5 0.01\\0.9 0\\}
\vio{1}{0.028 0\\0.028 0.05\\0.04 0.2\\0.05 0.3\\0.07 0.33\\0.1 0.3\\0.15 0.2\\0.25 0.1\\0.5 0.04\\1 0.02\\3 0.01\\10 0.005\\85 0\\}
\vio{2}{0.022 0\\0.022 0.33\\0.03 0.33\\0.05 0.32\\0.1 0.3\\0.3 0.28\\1 0.25\\3 0.2\\10 0.12\\30 0.05\\80 0.015\\170 0\\}
\vio{3}{0.014 0\\0.014 0.09\\0.02 0.15\\0.04 0.24\\0.1 0.3\\0.3 0.33\\1 0.28\\3 0.2\\10 0.1\\30 0.04\\100 0.01\\450 0\\}
\vio{4}{0.012 0\\0.012 0.12\\0.02 0.25\\0.03 0.3\\0.05 0.33\\0.1 0.25\\0.2 0.12\\0.5 0.04\\1 0.02\\10 0.01\\280 0\\}
\vio{5}{0.015 0\\0.015 0.16\\0.02 0.25\\0.03 0.3\\0.05 0.33\\0.08 0.3\\0.12 0.15\\0.2 0.06\\0.5 0.02\\2 0.01\\13 0\\}
\vio{6}{0.027 0\\0.027 0.2\\0.04 0.28\\0.07 0.32\\0.12 0.33\\0.2 0.28\\0.4 0.15\\1 0.04\\3 0.015\\10 0.01\\25 0\\}
\vio{7}{0.025 0\\0.025 0.23\\0.035 0.3\\0.05 0.33\\0.08 0.3\\0.12 0.22\\0.25 0.1\\0.6 0.04\\2 0.015\\10 0.01\\23 0\\}
\vio[vgray]{8}{0.021 0\\0.021 0.02\\0.03 0.12\\0.045 0.28\\0.06 0.33\\0.08 0.3\\0.12 0.2\\0.2 0.1\\0.5 0.05\\1 0.035\\2 0.025\\3 0.02\\5 0.03\\8 0.02\\9 0\\}
\med{0}{0.3}{0.045}
\addplot[only marks, mark=*, mark size=1.35bp, draw=ptdraw, fill=ptfill, line width=0.3bp, forget plot] coordinates {
(0,0.018)(-0.04,0.022)(0.04,0.022)(-0.1,0.027)(-0.02,0.027)(0.06,0.027)
(-0.16,0.032)(-0.08,0.032)(0,0.032)(0.08,0.032)(0.16,0.032)
(-0.22,0.038)(-0.14,0.038)(-0.06,0.038)(0.02,0.038)(0.1,0.038)(0.18,0.038)(0.24,0.038)
(-0.26,0.045)(-0.18,0.045)(-0.1,0.045)(-0.02,0.045)(0.06,0.045)(0.14,0.045)(0.22,0.045)(0.28,0.045)
(-0.24,0.053)(-0.16,0.053)(-0.08,0.053)(0,0.053)(0.08,0.053)(0.16,0.053)(0.24,0.053)
(-0.2,0.063)(-0.12,0.063)(-0.04,0.063)(0.04,0.063)(0.12,0.063)(0.2,0.063)
(-0.14,0.076)(-0.06,0.076)(0.02,0.076)(0.1,0.076)(0.16,0.076)
(-0.1,0.092)(-0.02,0.092)(0.06,0.092)(0.12,0.092)(-0.06,0.11)(0.02,0.11)(0.08,0.11)
(-0.03,0.14)(0.03,0.14)(0,0.17)(0,0.3)(0,0.5)(-0.01,0.8)(0.01,0.85)
(0.97,0.028)(1.03,0.028)(0.92,0.034)(1.0,0.034)(1.08,0.034)
(0.84,0.041)(0.92,0.041)(1.0,0.041)(1.08,0.041)(1.16,0.041)
(0.78,0.05)(0.86,0.05)(0.94,0.05)(1.02,0.05)(1.1,0.05)(1.18,0.05)(1.24,0.05)
(0.76,0.06)(0.84,0.06)(0.92,0.06)(1.0,0.06)(1.08,0.06)(1.16,0.06)(1.24,0.06)
(0.74,0.072)(0.82,0.072)(0.9,0.072)(0.98,0.072)(1.06,0.072)(1.14,0.072)(1.22,0.072)(1.28,0.072)
(0.76,0.088)(0.84,0.088)(0.92,0.088)(1.0,0.088)(1.08,0.088)(1.16,0.088)(1.24,0.088)
(0.8,0.108)(0.88,0.108)(0.96,0.108)(1.04,0.108)(1.12,0.108)(1.2,0.108)
(0.84,0.135)(0.92,0.135)(1.0,0.135)(1.08,0.135)(1.16,0.135)
(0.9,0.17)(0.98,0.17)(1.06,0.17)(1.12,0.17)(0.94,0.22)(1.02,0.22)(1.08,0.22)(0.96,0.3)(1.04,0.3)
(1.0,0.4)(0.98,0.55)(1.02,0.7)(1,1)(0.99,1.3)(1.01,2)(0.98,4)(1.03,4.2)(1,10)(1,17)(1,80)
(2,0.022)(1.96,0.03)(2.04,0.03)
(1.72,0.04)(1.8,0.04)(1.88,0.04)(1.96,0.04)(2.04,0.04)(2.12,0.04)(2.2,0.04)(2.28,0.04)
(1.76,0.055)(1.84,0.055)(1.92,0.055)(2.0,0.055)(2.08,0.055)(2.16,0.055)(2.24,0.055)
(1.8,0.08)(1.88,0.08)(1.96,0.08)(2.04,0.08)(2.12,0.08)(2.2,0.08)
(1.84,0.12)(1.92,0.12)(2.0,0.12)(2.08,0.12)(2.16,0.12)
(1.8,0.18)(1.88,0.18)(1.96,0.18)(2.04,0.18)(2.12,0.18)(2.2,0.18)
(1.84,0.28)(1.92,0.28)(2.0,0.28)(2.08,0.28)(2.16,0.28)
(1.86,0.45)(1.94,0.45)(2.02,0.45)(2.1,0.45)
(1.84,0.7)(1.92,0.7)(2.0,0.7)(2.08,0.7)(2.16,0.7)
(1.86,1.1)(1.94,1.1)(2.02,1.1)(2.1,1.1)(2.18,1.1)
(1.88,1.8)(1.96,1.8)(2.04,1.8)(2.12,1.8)(1.86,3)(1.94,3)(2.02,3)(2.1,3)
(1.88,5)(1.96,5)(2.04,5)(2.12,5)(1.92,8)(2.0,8)(2.08,8)(1.94,13)(2.02,13)(2.08,13)
(1.98,22)(2.02,30)(2,60)(1.99,170)
(2.94,0.02)(3.06,0.02)(3,0.025)(2.88,0.033)(2.96,0.033)(3.04,0.033)(3.12,0.033)
(2.84,0.05)(2.92,0.05)(3.0,0.05)(3.08,0.05)(3.16,0.05)
(2.8,0.075)(2.88,0.075)(2.96,0.075)(3.04,0.075)(3.12,0.075)(3.2,0.075)
(2.78,0.11)(2.86,0.11)(2.94,0.11)(3.02,0.11)(3.1,0.11)(3.18,0.11)(3.24,0.11)
(2.76,0.16)(2.84,0.16)(2.92,0.16)(3.0,0.16)(3.08,0.16)(3.16,0.16)(3.24,0.16)
(2.74,0.24)(2.82,0.24)(2.9,0.24)(2.98,0.24)(3.06,0.24)(3.14,0.24)(3.22,0.24)(3.28,0.24)
(2.76,0.36)(2.84,0.36)(2.92,0.36)(3.0,0.36)(3.08,0.36)(3.16,0.36)(3.24,0.36)
(2.78,0.55)(2.86,0.55)(2.94,0.55)(3.02,0.55)(3.1,0.55)(3.18,0.55)
(2.8,0.85)(2.88,0.85)(2.96,0.85)(3.04,0.85)(3.12,0.85)(3.2,0.85)
(2.84,1.3)(2.92,1.3)(3.0,1.3)(3.08,1.3)(3.16,1.3)
(2.86,2)(2.94,2)(3.02,2)(3.1,2)(2.88,3.2)(2.96,3.2)(3.04,3.2)(3.12,3.2)
(2.92,5)(3.0,5)(3.08,5)(2.94,7)(3.04,7)(3,12)(3,20)(3,40)(3,100)(3,150)
(3.92,0.013)(4.0,0.013)(4.08,0.013)(3.84,0.016)(3.92,0.016)(4.0,0.016)(4.08,0.016)(4.16,0.016)
(3.8,0.02)(3.88,0.02)(3.96,0.02)(4.04,0.02)(4.12,0.02)(4.2,0.02)
(3.76,0.025)(3.84,0.025)(3.92,0.025)(4.0,0.025)(4.08,0.025)(4.16,0.025)(4.24,0.025)
(3.74,0.031)(3.82,0.031)(3.9,0.031)(3.98,0.031)(4.06,0.031)(4.14,0.031)(4.22,0.031)
(3.74,0.039)(3.82,0.039)(3.9,0.039)(3.98,0.039)(4.06,0.039)(4.14,0.039)(4.22,0.039)(4.28,0.039)
(3.74,0.049)(3.82,0.049)(3.9,0.049)(3.98,0.049)(4.06,0.049)(4.14,0.049)(4.22,0.049)
(3.76,0.062)(3.84,0.062)(3.92,0.062)(4.0,0.062)(4.08,0.062)(4.16,0.062)(4.24,0.062)
(3.8,0.08)(3.88,0.08)(3.96,0.08)(4.04,0.08)(4.12,0.08)(4.2,0.08)
(3.86,0.105)(3.94,0.105)(4.02,0.105)(4.1,0.105)(3.9,0.14)(3.98,0.14)(4.06,0.14)(3.94,0.19)(4.02,0.19)
(4,0.3)(3.98,0.45)(4.02,0.6)(3.96,1)(4.04,1)(4,1.5)(4,3)(3.98,4.5)(4.02,5)(4,10)(4,40)(4,50)(4,280)
(4.86,0.016)(4.94,0.016)(5.02,0.016)(5.1,0.016)
(4.8,0.02)(4.88,0.02)(4.96,0.02)(5.04,0.02)(5.12,0.02)(5.2,0.02)
(4.76,0.025)(4.84,0.025)(4.92,0.025)(5.0,0.025)(5.08,0.025)(5.16,0.025)(5.24,0.025)
(4.78,0.032)(4.86,0.032)(4.94,0.032)(5.02,0.032)(5.1,0.032)(5.18,0.032)
(4.76,0.04)(4.84,0.04)(4.92,0.04)(5.0,0.04)(5.08,0.04)(5.16,0.04)(5.24,0.04)
(4.74,0.05)(4.82,0.05)(4.9,0.05)(4.98,0.05)(5.06,0.05)(5.14,0.05)(5.22,0.05)(5.28,0.05)
(4.76,0.063)(4.84,0.063)(4.92,0.063)(5.0,0.063)(5.08,0.063)(5.16,0.063)(5.24,0.063)
(4.78,0.08)(4.86,0.08)(4.94,0.08)(5.02,0.08)(5.1,0.08)(5.18,0.08)(5.24,0.08)
(4.8,0.095)(4.88,0.095)(4.96,0.095)(5.04,0.095)(5.12,0.095)(5.2,0.095)
(4.9,0.12)(4.98,0.12)(5.06,0.12)(4.94,0.16)(5.02,0.16)
(5,0.22)(4.98,0.35)(5.02,0.5)(5,0.65)(5,1)(5,2)(5,13)
(5.86,0.03)(5.96,0.03)(6.06,0.03)(6.16,0.03)
(5.8,0.04)(5.9,0.04)(6.0,0.04)(6.1,0.04)(6.2,0.04)
(5.78,0.055)(5.88,0.055)(5.98,0.055)(6.08,0.055)(6.18,0.055)
(5.82,0.075)(5.92,0.075)(6.02,0.075)(6.12,0.075)(6.22,0.075)
(5.78,0.1)(5.88,0.1)(5.98,0.1)(6.08,0.1)(6.18,0.1)(6.26,0.1)
(5.82,0.13)(5.92,0.13)(6.02,0.13)(6.12,0.13)(6.22,0.13)
(5.84,0.18)(5.94,0.18)(6.04,0.18)(6.14,0.18)(5.88,0.25)(5.98,0.25)(6.08,0.25)
(5.92,0.35)(6.02,0.35)(6.1,0.35)(5.96,0.5)(6.04,0.5)
(6,0.7)(6,1.5)(6,5)(6,7)(5.99,15)(6,25)
(6.8,0.026)(6.9,0.026)(7.0,0.026)(7.1,0.026)(7.2,0.026)
(6.76,0.032)(6.86,0.032)(6.96,0.032)(7.06,0.032)(7.16,0.032)(7.24,0.032)
(6.78,0.04)(6.86,0.04)(6.94,0.04)(7.02,0.04)(7.1,0.04)(7.18,0.04)(7.26,0.04)
(6.76,0.05)(6.84,0.05)(6.92,0.05)(7.0,0.05)(7.08,0.05)(7.16,0.05)(7.24,0.05)
(6.78,0.063)(6.86,0.063)(6.94,0.063)(7.02,0.063)(7.1,0.063)(7.18,0.063)(7.26,0.063)
(6.8,0.08)(6.88,0.08)(6.96,0.08)(7.04,0.08)(7.12,0.08)(7.2,0.08)
(6.84,0.1)(6.92,0.1)(7.0,0.1)(7.08,0.1)(7.16,0.1)
(6.88,0.13)(6.96,0.13)(7.04,0.13)(7.12,0.13)(6.92,0.18)(7.0,0.18)(7.08,0.18)(6.96,0.26)(7.04,0.26)
(7,0.4)(6.98,0.6)(7.02,0.8)(7,1)(7,2)(7,2.2)(6.98,10)(7.02,11)(7,20)
(8,0.021)(7.96,0.027)(8.04,0.027)(7.86,0.035)(7.94,0.035)(8.02,0.035)(8.1,0.035)
(7.8,0.045)(7.88,0.045)(7.96,0.045)(8.04,0.045)(8.12,0.045)(8.2,0.045)
(7.76,0.058)(7.84,0.058)(7.92,0.058)(8.0,0.058)(8.08,0.058)(8.16,0.058)(8.24,0.058)
(7.8,0.075)(7.88,0.075)(7.96,0.075)(8.04,0.075)(8.12,0.075)(8.2,0.075)
(7.86,0.1)(7.94,0.1)(8.02,0.1)(8.1,0.1)(7.92,0.13)(8.0,0.13)(8.06,0.13)
(7.96,0.25)(8.04,0.25)(7.96,0.45)(8.04,0.45)(8,0.6)(8,1)(7.98,5)(8.02,6)(8,8)
};
\med{1}{0.3}{0.076}\med{2}{0.3}{0.17}\med{3}{0.3}{0.24}\med{4}{0.32}{0.06}\med{5}{0.32}{0.05}
\med{6}{0.33}{0.126}\med{7}{0.32}{0.072}\med{8}{0.3}{0.057}
\end{axis}

% ================= annotations: tick labels, brackets and stars =================
\begin{scope}[x=30.45bp, y=-0.5bp, xshift=70.5bp]
\ticklabels{408.7}
\foreach \a/\b/\s/\t in {-0.31/0.84/0.25/****, 0.94/1.95/1.46/****, 2.0/3.0/2.46/****, 3.04/4.05/3.49/****, 4.1/4.97/4.53/****, 5.08/5.97/5.52/****, 7.0/8.0/7.5/****}{
  \draw[br] (\a,70) -- (\a,58) -- (\b,58) -- (\b,70);
  \node[stars] at (\s,43) {\t};}
\draw[br] (2.97,43) -- (2.97,32) -- (6.98,32) -- (6.98,43);
\node[stars] at (4.97,22) {****};
\end{scope}
\begin{scope}[x=30.7bp, y=-0.5bp, xshift=430.5bp]
\ticklabels{413.7}
\foreach \a/\b/\s/\t in {-0.33/0.84/0.24/****, 0.91/1.93/1.47/****, 1.99/2.99/2.46/****, 3.05/4.04/3.51/****, 4.10/4.99/4.55/****, 5.09/5.99/5.55/****}{
  \draw[br] (\a,70.7) -- (\a,58.3) -- (\b,58.3) -- (\b,70.7);
  \node[stars] at (\s,44) {\t};}
\draw[br] (7.03,66.7) -- (7.03,55) -- (8.03,55) -- (8.03,66.7);
\node[stars] at (7.51,45) {**};
\draw[br] (2.97,43.3) -- (2.97,31.7) -- (7.03,31.7) -- (7.03,43.3);
\node[stars] at (5.03,22.7) {****};
\draw[br] (2.97,31.7) -- (2.97,13.3) -- (8.03,13.3) -- (8.03,25);
\node[stars] at (5.57,6) {****};
\end{scope}
\begin{scope}[x=30.75bp, y=-0.5bp, xshift=70.5bp]
\ticklabels{934.7}
\foreach \a/\b/\s/\t in {-0.31/0.84/0.25/****, 0.93/1.92/1.47/****, 1.98/2.99/2.46/****, 3.05/4.03/3.49/****, 4.08/4.97/4.52/****, 5.07/5.95/5.51/****, 6.99/7.98/7.44/***}{
  \draw[br] (\a,595) -- (\a,581.7) -- (\b,581.7) -- (\b,595);
  \node[stars] at (\s,568.3) {\t};}
\draw[br] (2.97,567.7) -- (2.97,556) -- (6.98,556) -- (6.98,567.7);
\node[stars] at (4.82,547.7) {****};
\end{scope}
\begin{scope}[x=30.8bp, y=-0.5bp, xshift=424.5bp]
\ticklabels{935.7}
\foreach \a/\b/\s/\t in {-0.32/0.83/0.24/****, 0.92/1.91/1.38/***, 1.97/2.96/2.45/*, 3.01/4.01/3.48/****, 4.07/4.95/4.51/****, 5.06/5.94/5.5/****}{
  \draw[br] (\a,595) -- (\a,581.7) -- (\b,581.7) -- (\b,595);
  \node[stars] at (\s,568.3) {\t};}
\draw[br] (2.96,567.7) -- (2.96,556) -- (6.97,556) -- (6.97,567.7);
\node[stars] at (5.06,547.7) {****};
\end{scope}
\begin{scope}[x=30.75bp, y=-0.5bp, xshift=70.5bp]
\ticklabels{1499.7}
\foreach \a/\b/\s/\t in {-0.31/0.84/0.25/****, 0.93/1.92/1.47/****, 3.03/4.03/3.49/****, 5.07/5.94/5.51/****, 6.03/6.93/6.44/***}{
  \draw[br] (\a,1159.6) -- (\a,1146.5) -- (\b,1146.5) -- (\b,1159.6);
  \node[stars] at (\s,1132) {\t};}
\draw[br] (2.97,1131.4) -- (2.97,1119) -- (6.98,1119) -- (6.98,1131.4);
\node[stars] at (5.1,1110.8) {****};
\end{scope}

% ================= titles and panel letters =================
\begin{scope}[x=0.5bp, y=-0.5bp, every node/.style={font=\fontsize{10}{12}\selectfont\bfseries, inner sep=0pt}]
\node[font=\fontsize{11.5}{13}\selectfont\bfseries] at (11,20) {A};
\node[font=\fontsize{11.5}{13}\selectfont\bfseries] at (719,18) {B};
\node[font=\fontsize{11.5}{13}\selectfont\bfseries] at (11,513) {C};
\node[font=\fontsize{11.5}{13}\selectfont\bfseries] at (717,512) {D};
\node[font=\fontsize{11.5}{13}\selectfont\bfseries] at (14,1098) {E};
\node[rotate=90] at (16,214) {NAb titer (AU/mL)};
\node[rotate=90] at (727,222) {RBD titer (AU/mL)};
\node[rotate=90] at (20,744) {IgG titer (AU/mL)};
\node[rotate=90] at (727,745) {IgM titer (AU/mL)};
\node[rotate=90] at (20,1308) {IgA titer (AU/mL)};
\node at (412,509) {Time point of return visit};
\node at (1122,517) {Time point of return visit};
\node at (405,1041) {Time point of return visit};
\node at (1112,1039) {Time point of return visit};
\node at (405,1604) {Time point of return visit};
\end{scope}
\end{tikzpicture}
\end{document}
